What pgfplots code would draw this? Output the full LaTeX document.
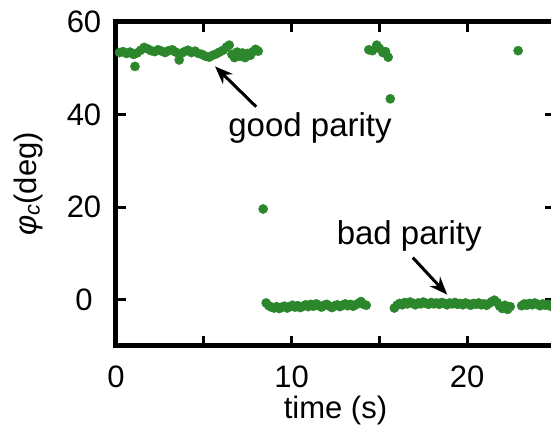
\documentclass[border=0pt]{standalone}
\usepackage{fontspec}
\setmainfont{Liberation Sans}
\usepackage{pgfplots}
\pgfplotsset{compat=1.18}
\usetikzlibrary{arrows.meta,calc}
\definecolor{dotgreen}{RGB}{44,135,44}
\newcommand{\bigfont}{\fontsize{31}{37}\selectfont}
\newcommand{\annfont}{\fontsize{33}{39}\selectfont}
\begin{document}
\begin{tikzpicture}[font=\bigfont]
\begin{axis}[
  scale only axis, width=439pt, height=324pt,
  xmin=0, xmax=25, ymin=-10, ymax=60,
  xtick={0,10,20}, minor x tick num=1,
  ytick={0,20,40,60},
  tick align=inside,
  major tick length=10pt, minor tick length=10pt,
  tick style={black, line width=3pt},
  axis line style={line width=5pt},
  every outer x axis line/.append style={line width=5pt},
  every outer y axis line/.append style={line width=5pt},
  /pgf/number format/assume math mode=true,
  tick label style={font=\bigfont},
  label style={font=\bigfont},
  xticklabel style={anchor=center, yshift=-31pt},
  yticklabel style={anchor=center, xshift=-32pt},
  xlabel={time (s)},
  ylabel={{\itshape φ\textsubscript{c}}(deg)},
  xlabel style={at={(axis description cs:0.5,0)}, anchor=center, yshift=-64pt},
  ylabel style={at={(axis description cs:0,0.5)}, anchor=center, yshift=88pt},
]
\addplot[only marks, mark=*, mark size=4.6pt, color=dotgreen, mark options={draw=dotgreen, fill=dotgreen}] table {
t v
0.20 53.4
0.40 53.6
0.60 53.2
0.80 53.5
1.00 53.0
1.08 50.4
1.20 53.3
1.40 53.9
1.60 54.5
1.80 54.2
2.00 53.8
2.20 53.6
2.40 54.0
2.60 53.7
2.80 53.4
3.00 53.8
3.20 54.0
3.40 53.5
3.60 51.8
3.70 53.2
3.90 53.6
4.10 53.9
4.30 53.4
4.50 53.7
4.70 53.2
4.90 53.0
5.10 52.6
5.30 52.4
5.50 52.8
5.70 53.1
5.90 53.5
6.10 53.9
6.30 54.6
6.45 55.0
6.60 53.0
6.75 52.3
6.90 53.5
7.05 52.6
7.20 53.3
7.35 52.3
7.50 53.2
7.65 52.8
7.80 53.6
7.95 54.1
8.10 53.7
8.38 19.6
8.55 -0.7
8.70 -1.3
8.85 -1.6
9.00 -1.8
9.15 -1.5
9.30 -1.9
9.45 -1.6
9.60 -1.4
9.75 -1.8
9.90 -1.5
10.05 -1.2
10.20 -1.6
10.35 -1.3
10.50 -1.7
10.65 -1.4
10.80 -1.1
10.95 -1.5
11.10 -1.0
11.25 -1.4
11.40 -0.9
11.55 -1.3
11.70 -1.6
11.85 -1.2
12.00 -1.0
12.15 -1.4
12.30 -1.7
12.45 -1.3
12.60 -1.1
12.75 -1.5
12.90 -1.2
13.05 -0.9
13.20 -1.3
13.35 -1.0
13.50 -1.4
13.65 -1.1
13.80 -0.8
13.95 -0.4
14.10 -1.0
14.25 -1.2
14.40 54.0
14.60 53.8
14.85 55.0
15.00 54.3
15.20 53.4
15.35 53.6
15.50 52.4
15.62 43.4
15.85 -1.8
16.00 -1.2
16.15 -0.8
16.30 -1.1
16.45 -0.6
16.60 -0.9
16.75 -0.5
16.90 -0.8
17.05 -1.1
17.20 -0.7
17.35 -0.9
17.50 -0.5
17.65 -0.8
17.80 -1.0
17.95 -0.6
18.10 -0.9
18.25 -0.7
18.40 -1.0
18.55 -0.6
18.70 -0.8
18.85 -1.1
19.00 -0.7
19.15 -0.9
19.30 -0.6
19.45 -1.0
19.60 -0.8
19.75 -1.1
19.90 -0.7
20.05 -0.9
20.20 -1.2
20.35 -0.8
20.50 -1.0
20.65 -0.7
20.80 -1.1
20.95 -0.9
21.10 -1.2
21.25 -0.8
21.40 -0.4
21.55 -0.1
21.70 -0.6
21.85 -1.4
22.00 -1.9
22.15 -1.2
22.30 -2.1
22.45 -1.5
22.90 53.8
23.10 -1.3
23.25 -0.9
23.40 -1.2
23.55 -0.8
23.70 -1.1
23.85 -0.7
24.00 -1.0
24.15 -1.3
24.30 -0.9
24.45 -1.2
24.60 -1.0
24.75 -1.4
24.90 -1.1
};
\node[font=\annfont] at (axis cs:11.05,37) {good parity};
\draw[-{Stealth[length=18pt,width=14pt]}, line width=3pt] (axis cs:7.98,41.7) -- (axis cs:5.64,50.4);
\node[font=\annfont] at (axis cs:16.7,13.7) {bad parity};
\draw[-{Stealth[length=18pt,width=14pt]}, line width=3pt] (axis cs:16.9,9.1) -- (axis cs:18.86,1.1);
\coordinate (BL) at (rel axis cs:0,0);
\coordinate (TR) at (rel axis cs:1,1);
\end{axis}
\pgfresetboundingbox
\path[use as bounding box] ($(BL)+(-116pt,-82pt)$) rectangle ($(TR)+(-4pt,22pt)$);
\end{tikzpicture}
\end{document}
